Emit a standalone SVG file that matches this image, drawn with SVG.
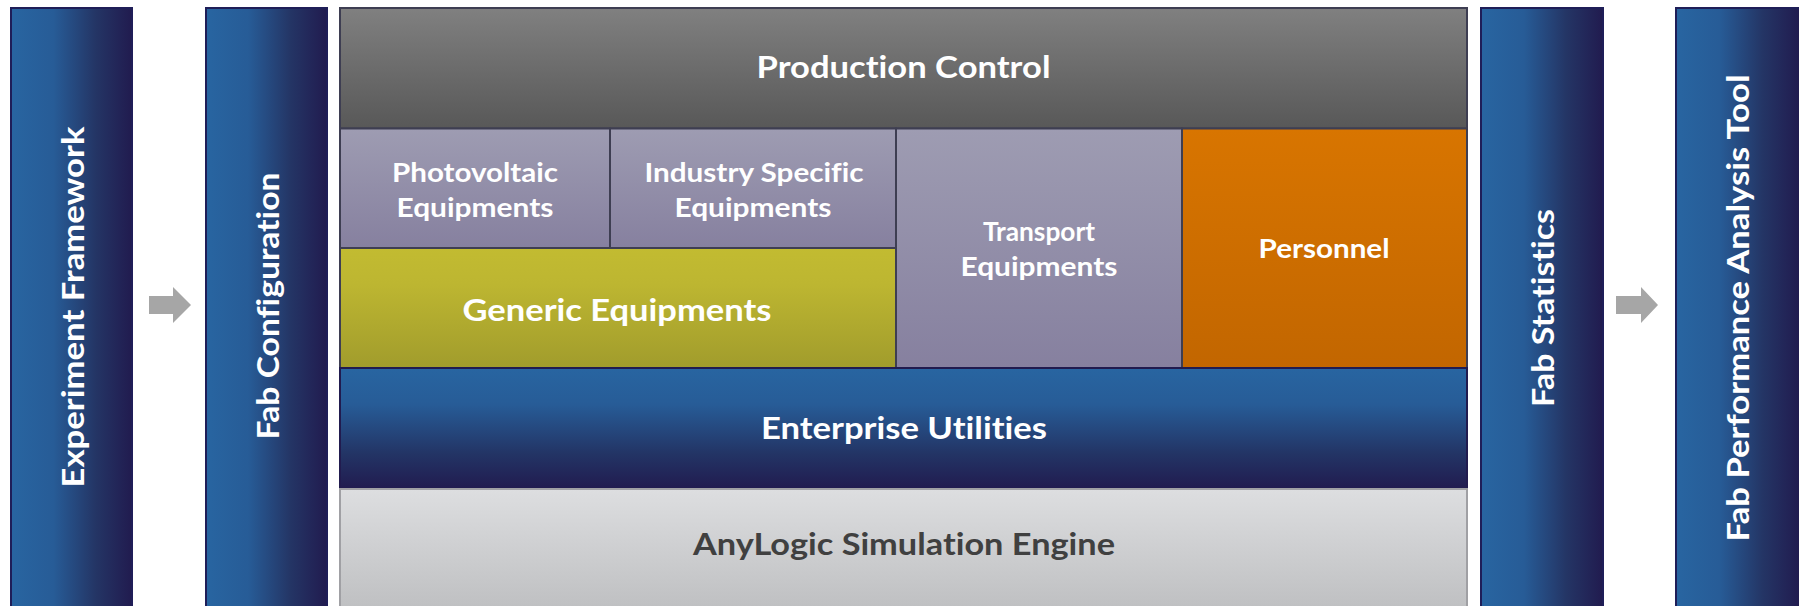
<svg xmlns="http://www.w3.org/2000/svg" width="1799" height="606" viewBox="0 0 1799 606">
<defs>
<linearGradient id="colGrad" x1="0" y1="0" x2="1" y2="0">
<stop offset="0" stop-color="#2865A1"/>
<stop offset="0.35" stop-color="#275C97"/>
<stop offset="0.7" stop-color="#243565"/>
<stop offset="1" stop-color="#211B4F"/>
</linearGradient>
<linearGradient id="gProd" x1="0" y1="0" x2="0" y2="1">
<stop offset="0" stop-color="#808080"/>
<stop offset="1" stop-color="#585858"/>
</linearGradient>
<linearGradient id="gLav" x1="0" y1="0" x2="0" y2="1">
<stop offset="0" stop-color="#9E9CB2"/>
<stop offset="1" stop-color="#86809F"/>
</linearGradient>
<linearGradient id="gGen" x1="0" y1="0" x2="0" y2="1">
<stop offset="0" stop-color="#C2BB31"/>
<stop offset="0.3" stop-color="#BDB631"/>
<stop offset="1" stop-color="#A19C2C"/>
</linearGradient>
<linearGradient id="gPers" x1="0" y1="0" x2="0" y2="1">
<stop offset="0" stop-color="#D87500"/>
<stop offset="1" stop-color="#C26600"/>
</linearGradient>
<linearGradient id="gEnt" x1="0" y1="0" x2="0" y2="1">
<stop offset="0" stop-color="#2865A1"/>
<stop offset="0.3" stop-color="#275C97"/>
<stop offset="0.7" stop-color="#233566"/>
<stop offset="1" stop-color="#211B4F"/>
</linearGradient>
<linearGradient id="gAny" x1="0" y1="0" x2="0" y2="1">
<stop offset="0" stop-color="#DDDEE0"/>
<stop offset="1" stop-color="#BCBDBF"/>
</linearGradient>
</defs>
<style>
.col{fill:url(#colGrad);stroke:#1F1E58;stroke-width:2}
.box{stroke:#3E3E52;stroke-width:2}
.t{font-family:Lato,"Open Sans","Liberation Sans",sans-serif;font-weight:700;fill:#FFFFFF;text-anchor:middle;dominant-baseline:central;font-variant-ligatures:none;font-feature-settings:"liga" 0}
.big{font-size:31px}
.mid{font-size:27px}
.dark{fill:#404040}
.arrow{fill:#A6A6A6}
</style>

<g id="experiment-framework">
<rect class="col" x="11" y="8" width="121" height="610"/>
<text class="t big" transform="translate(72,307) rotate(-90)" textLength="361" lengthAdjust="spacingAndGlyphs">Experiment Framework</text>
</g>

<g id="fab-configuration">
<rect class="col" x="206" y="8" width="121" height="610"/>
<text class="t big" transform="translate(267,306) rotate(-90)" textLength="267" lengthAdjust="spacingAndGlyphs">Fab Configuration</text>
</g>

<g id="production-control">
<rect class="box" x="340" y="8" width="1127" height="120.5" fill="url(#gProd)"/>
<text class="t big" x="903.5" y="66" textLength="294" lengthAdjust="spacingAndGlyphs">Production Control</text>
</g>

<g id="photovoltaic-equipments">
<rect class="box" x="340" y="128.5" width="270" height="119.5" fill="url(#gLav)"/>
<text class="t mid" x="475" y="171" textLength="166" lengthAdjust="spacingAndGlyphs">Photovoltaic</text>
<text class="t mid" x="475" y="206" textLength="157" lengthAdjust="spacingAndGlyphs">Equipments</text>
</g>

<g id="industry-specific-equipments">
<rect class="box" x="610" y="128.5" width="286" height="119.5" fill="url(#gLav)"/>
<text class="t mid" x="754" y="171" textLength="219" lengthAdjust="spacingAndGlyphs">Industry Specific</text>
<text class="t mid" x="753" y="206" textLength="157" lengthAdjust="spacingAndGlyphs">Equipments</text>
</g>

<g id="generic-equipments">
<rect class="box" x="340" y="248" width="556" height="120" fill="url(#gGen)"/>
<text class="t big" x="617" y="309" textLength="309" lengthAdjust="spacingAndGlyphs">Generic Equipments</text>
</g>

<g id="transport-equipments">
<rect class="box" x="896" y="128.5" width="286" height="239.5" fill="url(#gLav)"/>
<text class="t mid" x="1039" y="230" textLength="112" lengthAdjust="spacingAndGlyphs">Transport</text>
<text class="t mid" x="1039" y="265" textLength="157" lengthAdjust="spacingAndGlyphs">Equipments</text>
</g>

<g id="personnel">
<rect class="box" x="1182" y="128.5" width="285" height="239.5" fill="url(#gPers)"/>
<text class="t mid" x="1324" y="247" textLength="131" lengthAdjust="spacingAndGlyphs">Personnel</text>
</g>

<g id="enterprise-utilities">
<rect x="340" y="368" width="1127" height="121" fill="url(#gEnt)" stroke="#211B4F" stroke-width="2"/>
<text class="t big" x="904" y="427" textLength="286" lengthAdjust="spacingAndGlyphs">Enterprise Utilities</text>
</g>

<g id="anylogic-simulation-engine">
<rect x="340" y="489" width="1127" height="130" fill="url(#gAny)" stroke="#A0A0A4" stroke-width="2"/>
<text class="t big dark" x="904" y="543" textLength="422" lengthAdjust="spacingAndGlyphs">AnyLogic Simulation Engine</text>
</g>

<g id="fab-statistics">
<rect class="col" x="1481" y="8" width="122" height="610"/>
<text class="t big" transform="translate(1542,308) rotate(-90)" textLength="198" lengthAdjust="spacingAndGlyphs">Fab Statistics</text>
</g>

<g id="fab-performance-analysis-tool">
<rect class="col" x="1676" y="8" width="124" height="610"/>
<text class="t big" transform="translate(1737,308) rotate(-90)" textLength="467" lengthAdjust="spacingAndGlyphs">Fab Performance Analysis Tool</text>
</g>

<g id="connectors">
<path class="arrow" d="M149,296 H173 V287 L191,305 L173,323 V314 H149 Z"/>
<path class="arrow" d="M1616,296 H1641 V287 L1658,305 L1641,323 V314 H1616 Z"/>
</g>
</svg>
